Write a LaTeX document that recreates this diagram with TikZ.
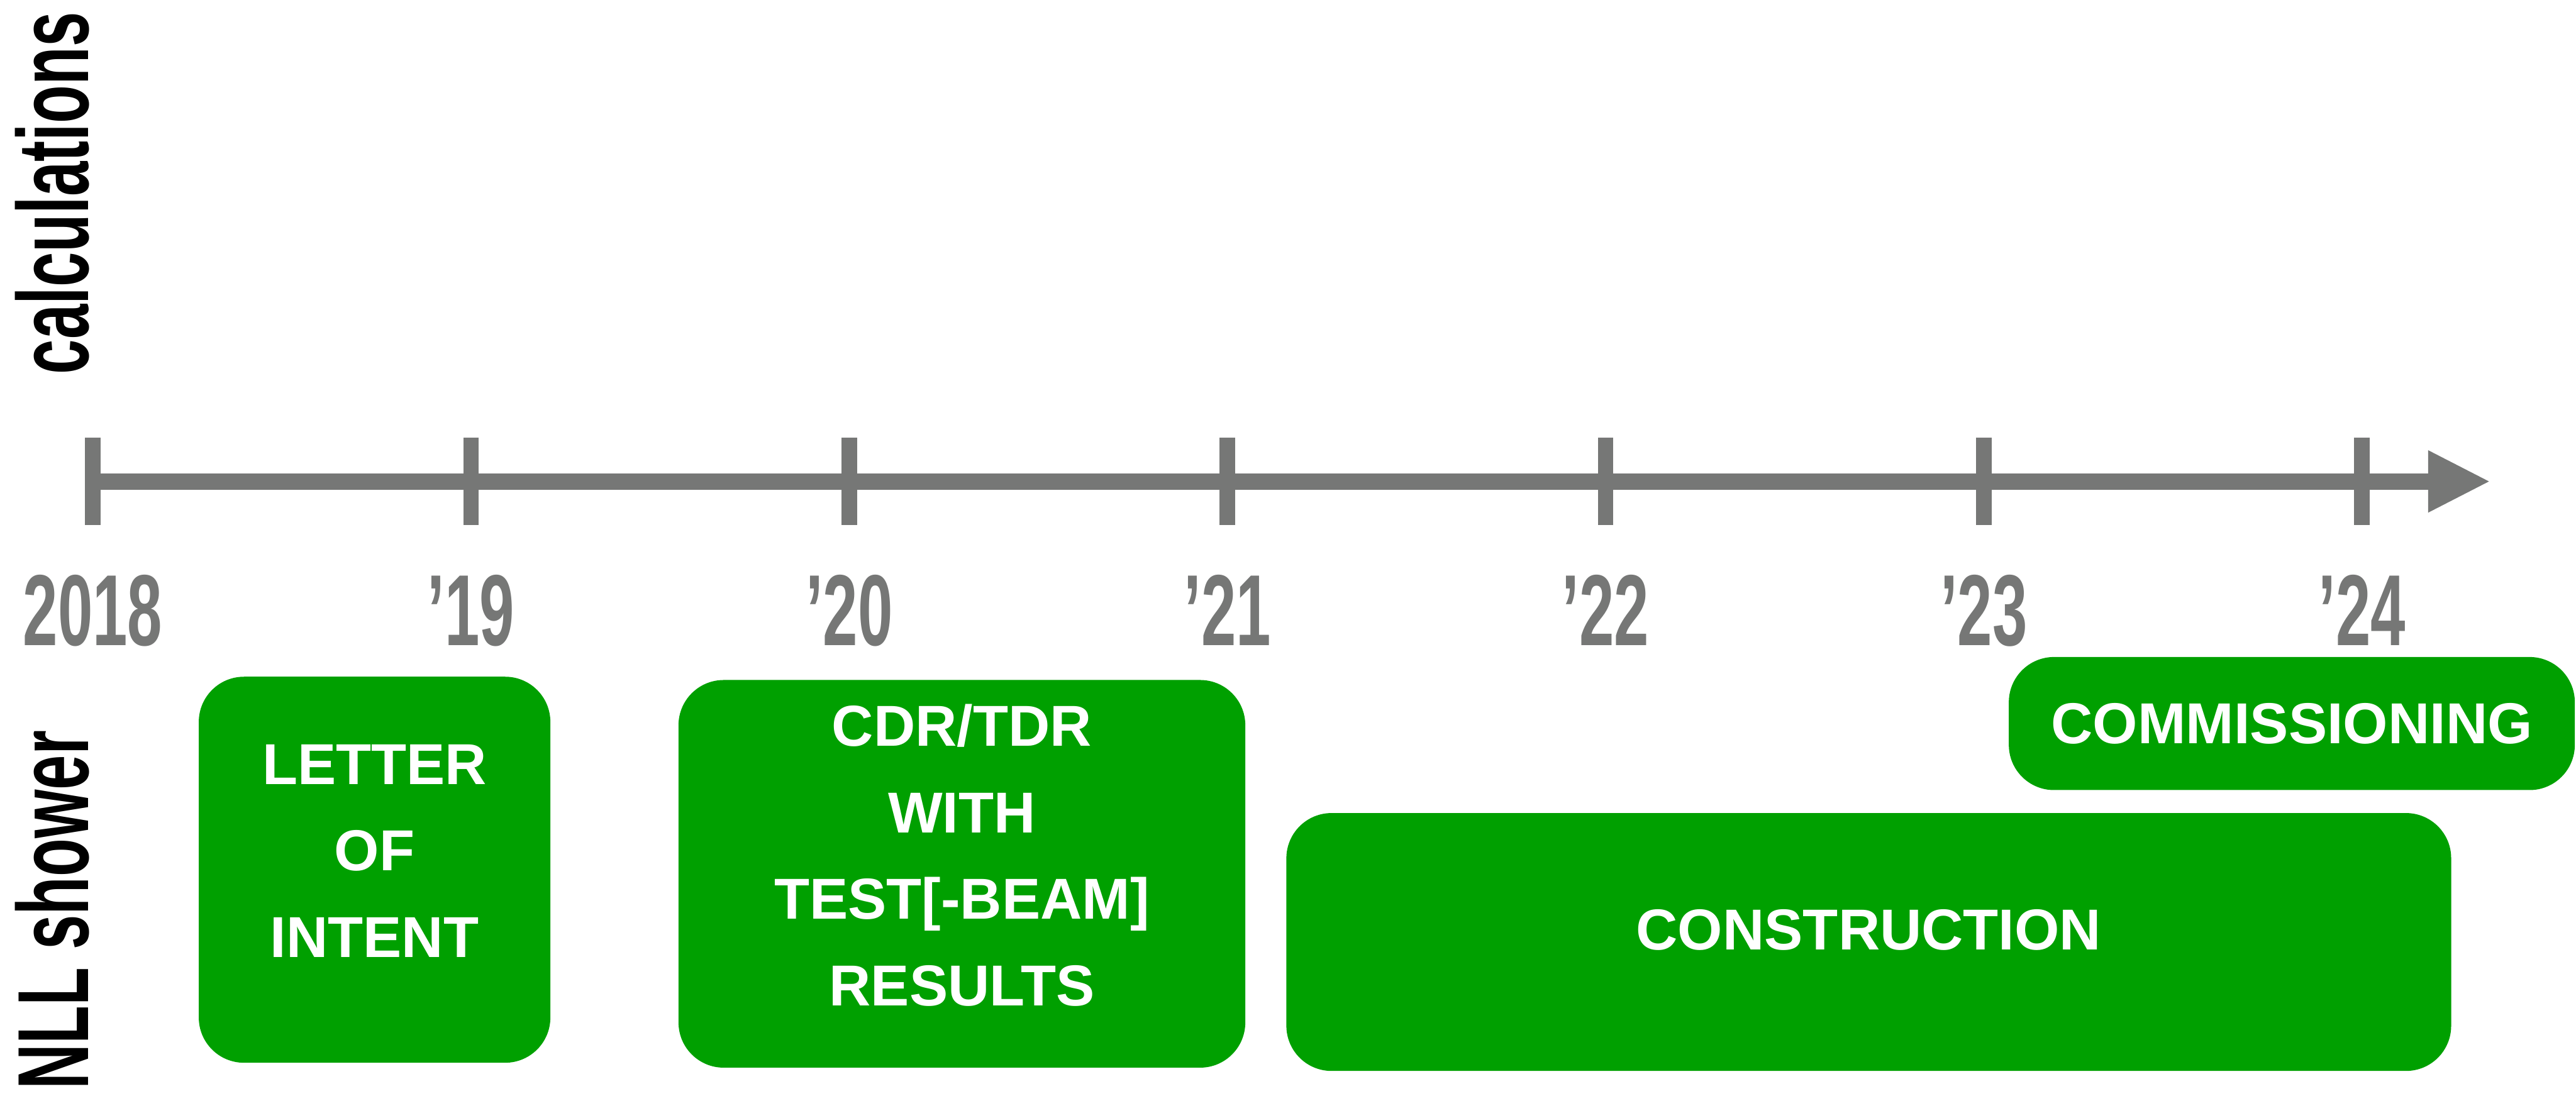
\documentclass[tikz,border=0pt]{standalone}
\usepackage{fontspec}
\setmainfont{Liberation Sans}
\newfontfamily\condfont[FakeStretch=0.62]{Liberation Sans}
\definecolor{mygreen}{HTML}{00A000}
\definecolor{mygray}{HTML}{767776}
\usetikzlibrary{arrows.meta, positioning}
\tikzset{
	phasenode/.style={
			rounded corners=0.55cm,
			fill=mygreen,
			text=white,
			font=\bfseries\fontsize{20}{30}\selectfont,
			align=center,
			inner sep=0pt
		},
	yearnode/.style={
			anchor=base,
			text=mygray,
			font=\condfont\bfseries\fontsize{35}{35}\selectfont,
			inner sep=0pt
		},
	sidenode/.style={
			anchor=base,
			rotate=90,
			text=black,
			font=\condfont\bfseries\fontsize{35}{35}\selectfont,
			inner sep=0pt
		},
	axisline/.style={
			draw=mygray,
			line width=0.2cm
		}
}

\begin{document}
\begin{tikzpicture}
\useasboundingbox (0,0) rectangle (31.36,-13.406);

% row labels
\node[sidenode] (calc) at (1.072,-2.354) {calculations};
\node[sidenode] (nll) at (1.072,-11.08) {NLL shower};

% time axis
\coordinate (start) at (1.13,-5.862);
\coordinate (tip) at (30.3,-5.862);
\draw[axisline, -{Triangle[length=0.74cm, width=0.76cm, line width=0pt]}] (start) -- (tip);
\foreach \i/\yr in {0/2018, 1/’19, 2/’20, 3/’21, 4/’22, 5/’23, 6/’24} {
  \draw[axisline, line width=0.19cm] (1.13+4.604*\i,-5.33) -- (1.13+4.604*\i,-6.396);
  \node[yearnode] (year\i) at (1.13+4.604*\i,-7.86) {\yr};
}

% phases
\node[phasenode, minimum width=4.28cm, minimum height=4.70cm, text depth=0.46cm] (loi) at (4.56,-10.59) {LETTER\\OF\\INTENT};
\node[phasenode, minimum width=6.90cm, minimum height=4.72cm, text depth=0.46cm] (cdr) at (11.71,-10.64) {CDR/TDR\\WITH\\TEST[-BEAM]\\RESULTS};
\node[phasenode, minimum width=14.18cm, minimum height=3.14cm, text depth=0.3cm] (constr) at (22.75,-11.47) {CONSTRUCTION};
\node[phasenode, minimum width=6.89cm, minimum height=1.62cm] (comm) at (27.90,-8.81) {COMMISSIONING};
\end{tikzpicture}
\end{document}
